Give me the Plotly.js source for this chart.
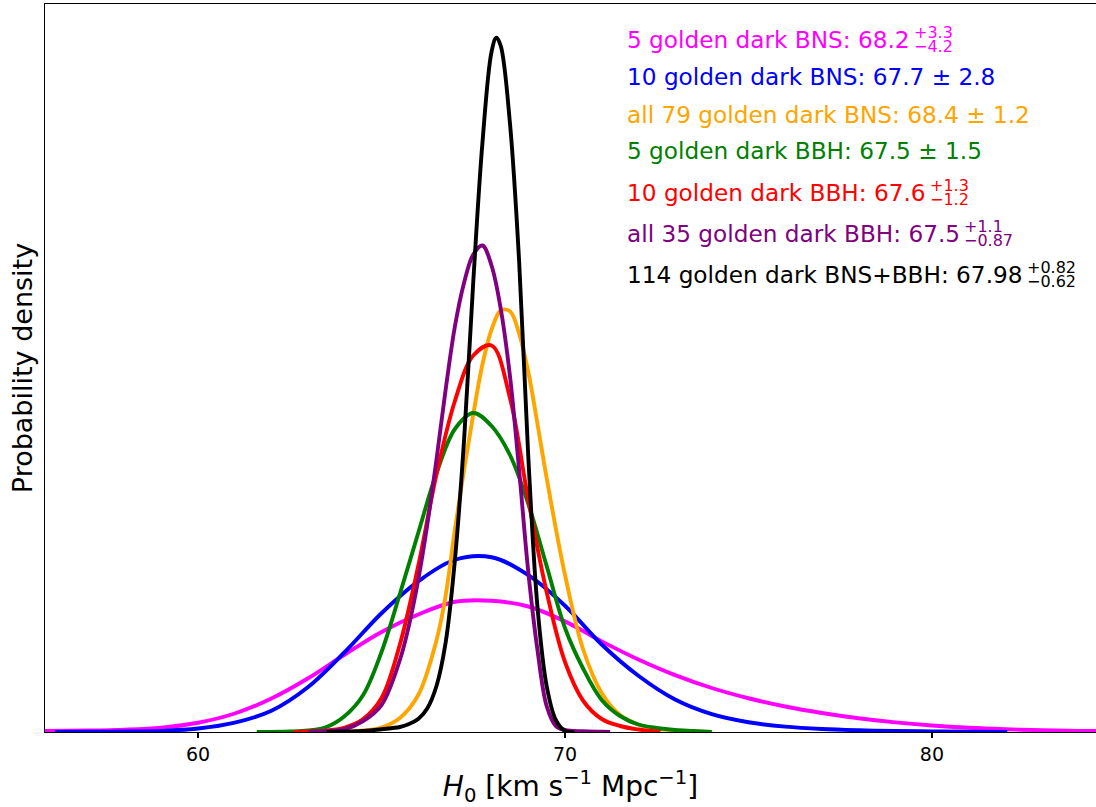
<!DOCTYPE html>
<html>
<head>
<meta charset="utf-8">
<script src="https://cdn.plot.ly/plotly-3.0.1.min.js"></script>
<style>
html, body { margin: 0; padding: 0; overflow: hidden; background: #fff; }
#chart { width: 1096px; height: 807px; }
</style>
</head>
<body>
<div id="chart"></div>
<script>
// ---- data (probability density vs H0) ----
const magentaX = [55.83, 57, 58, 59, 60, 61, 62, 63, 64, 65, 66, 67, 68, 69, 70, 71, 72, 73, 74, 75, 76, 77, 78, 79, 80, 81, 82, 83, 84, 84.47];
const magentaY = [0.0009, 0.0012, 0.0019, 0.0035, 0.0074, 0.0148, 0.0268, 0.043, 0.062, 0.08, 0.094, 0.1042, 0.105, 0.1004, 0.0885, 0.0725, 0.058, 0.0455, 0.0352, 0.027, 0.0204, 0.0152, 0.011, 0.0077, 0.0052, 0.0034, 0.0022, 0.0014, 0.0009, 0.0008];

const blueX = [56.1, 57, 58, 59, 60, 61, 62, 63, 64, 65, 66, 67, 68, 69, 70, 71, 72, 73, 74, 75, 76, 77, 78, 79, 80, 81, 82.05];
const blueY = [0, 0.00016, 0.0004, 0.0009, 0.0028, 0.0075, 0.017, 0.036, 0.064, 0.095, 0.1205, 0.1378, 0.1398, 0.1255, 0.101, 0.07, 0.045, 0.026, 0.0143, 0.0078, 0.0043, 0.0024, 0.0014, 0.0008, 0.0005, 0.0002, 0];

const orangeX = [63.87, 64, 64.5, 65, 65.5, 66, 66.5, 66.75, 67, 67.25, 67.5, 67.75, 68, 68.25, 68.5, 68.75, 69, 69.25, 69.5, 70, 70.5, 71, 71.5, 72, 72.5, 73, 73.5, 74];
const orangeY = [0, 0.0002, 0.0012, 0.0036, 0.0112, 0.0296, 0.0736, 0.1096, 0.162, 0.21, 0.254, 0.294, 0.322, 0.3372, 0.3366, 0.3186, 0.288, 0.2464, 0.2032, 0.1256, 0.0656, 0.0312, 0.0136, 0.006, 0.0028, 0.0012, 0.0004, 0];

const greenX = [61.6, 62.5, 63, 63.5, 64, 64.5, 65, 65.5, 66, 66.5, 67, 67.5, 68, 68.5, 69, 69.5, 70, 70.5, 71, 71.5, 72, 72.5, 73, 73.5, 74];
const greenY = [0, 0.0004, 0.0012, 0.004, 0.0128, 0.0296, 0.064, 0.1104, 0.1592, 0.2072, 0.2424, 0.2552, 0.2448, 0.2216, 0.1824, 0.1328, 0.0832, 0.0504, 0.0256, 0.0128, 0.006, 0.0032, 0.0016, 0.0008, 0];

const redX = [62.6, 63, 63.5, 64, 64.5, 65, 65.5, 66, 66.5, 67, 67.5, 68, 68.5, 69, 69.5, 70, 70.5, 71, 71.5, 72, 72.5, 72.6];
const redY = [0, 0.0004, 0.0012, 0.0036, 0.0104, 0.0272, 0.07, 0.1328, 0.2064, 0.2648, 0.3012, 0.3092, 0.2672, 0.1856, 0.112, 0.056, 0.0248, 0.0104, 0.0048, 0.002, 0.0004, 0];

const purpleX = [63.0, 63.5, 64, 64.5, 65, 65.5, 65.75, 66, 66.25, 66.5, 66.75, 67, 67.25, 67.5, 67.75, 68, 68.25, 68.5, 68.75, 69, 69.25, 69.5, 69.75, 70, 70.5, 71, 71.23];
const purpleY = [0, 0.0008, 0.0024, 0.0088, 0.0216, 0.0576, 0.0856, 0.1216, 0.1664, 0.2184, 0.2744, 0.3244, 0.3594, 0.382, 0.3892, 0.373, 0.3384, 0.2848, 0.2096, 0.128, 0.0656, 0.0208, 0.0048, 0.0016, 0.0006, 0.0002, 0];

const blackX = [63.5, 64, 64.5, 65, 65.5, 65.75, 66, 66.25, 66.5, 66.75, 67, 67.25, 67.5, 67.75, 68, 68.13, 68.25, 68.5, 68.75, 69, 69.25, 69.5, 69.75, 70, 70.25];
const blackY = [0, 0.0004, 0.0008, 0.0022, 0.004, 0.0064, 0.0104, 0.019, 0.037, 0.072, 0.1376, 0.2336, 0.36, 0.4712, 0.5444, 0.5555, 0.5488, 0.487, 0.3768, 0.22, 0.1, 0.0368, 0.0096, 0.0008, 0];

const seriesX = [magentaX, blueX, orangeX, greenX, redX, purpleX, blackX];
const seriesY = [magentaY, blueY, orangeY, greenY, redY, purpleY, blackY];
const seriesColors = ['#ff00ff', '#0000ff', '#ffa500', '#008000', '#ff0000', '#800080', '#000000'];

const legendLabels = [
  '5 golden dark BNS: 68.2',
  '10 golden dark BNS: 67.7 ± 2.8',
  'all 79 golden dark BNS: 68.4 ± 1.2',
  '5 golden dark BBH: 67.5 ± 1.5',
  '10 golden dark BBH: 67.6',
  'all 35 golden dark BBH: 67.5',
  '114 golden dark BNS+BBH: 67.98'
];
const legendSup = ['+3.3', '', '', '', '+1.3', '+1.1', '+0.82'];
const legendSub = ['−4.2', '', '', '', '−1.2', '−0.87', '−0.62'];

const xTicks = [60, 70, 80];
const xRange = [55.83, 84.47];
const yRange = [0, 0.5824];

// ---- layout helpers (pixel -> paper) ----
const W = 1096, H = 807, ML = 45, MT = 4, MB = 75;
const PW = W - ML, PH = H - MT - MB;
const px2paperX = p => (p - ML) / PW;
const py2paperY = p => (H - MB - p) / PH;

const FONT = 'DejaVu Sans, Verdana, sans-serif';
const LEG_SIZE = 23.2, SCRIPT_SIZE = 16;
const rowBaseline = [47, 84, 122, 158, 200, 241, 282];
const legendLeft = 627;

const cv = document.createElement('canvas').getContext('2d');
cv.font = LEG_SIZE + 'px "DejaVu Sans"';
const textWidth = t => cv.measureText(t).width;

const traces = seriesX.map((xs, i) => ({
  x: xs, y: seriesY[i], type: 'scatter', mode: 'lines',
  line: { color: seriesColors[i], width: 3.9, shape: 'spline', smoothing: 1 },
  hoverinfo: 'skip', showlegend: false
}));

const annotations = [];
legendLabels.forEach((t, i) => {
  annotations.push({
    xref: 'paper', yref: 'paper', x: px2paperX(legendLeft - 2), y: py2paperY(rowBaseline[i] - 7.5),
    xanchor: 'left', yanchor: 'middle', showarrow: false, text: t,
    font: { family: FONT, size: LEG_SIZE, color: seriesColors[i] }
  });
  if (legendSup[i]) {
    const sx = legendLeft + textWidth(t) + 2;
    annotations.push({
      xref: 'paper', yref: 'paper', x: px2paperX(sx), y: py2paperY(rowBaseline[i] - 14.5),
      xanchor: 'left', yanchor: 'middle', showarrow: false, text: legendSup[i],
      font: { family: FONT, size: SCRIPT_SIZE, color: seriesColors[i] }
    });
    annotations.push({
      xref: 'paper', yref: 'paper', x: px2paperX(sx), y: py2paperY(rowBaseline[i] - 0.5),
      xanchor: 'left', yanchor: 'middle', showarrow: false, text: legendSub[i],
      font: { family: FONT, size: SCRIPT_SIZE, color: seriesColors[i] }
    });
  }
});

const layout = {
  width: W, height: H,
  margin: { l: ML, r: 0, t: MT, b: MB, pad: 0 },
  paper_bgcolor: '#ffffff', plot_bgcolor: '#ffffff',
  font: { family: FONT, color: '#000' },
  showlegend: false,
  xaxis: {
    range: xRange, tickvals: xTicks, ticktext: xTicks.map(String),
    ticks: 'outside', ticklen: 5, tickwidth: 1.1, tickcolor: '#000',
    showline: true, linecolor: '#000', linewidth: 1.2, mirror: true,
    showgrid: false, zeroline: false, automargin: false,
    tickfont: { family: FONT, size: 19, color: '#000' },
    title: { text: '<i>H</i><sub>0</sub> [km s<sup>−1</sup> Mpc<sup>−1</sup>]', font: { family: FONT, size: 28, color: '#000' }, standoff: 17 }
  },
  yaxis: {
    range: yRange, showticklabels: false, ticks: '',
    showline: true, linecolor: '#000', linewidth: 1.2, mirror: false,
    showgrid: false, zeroline: false, automargin: false,
    title: { text: 'Probability density', font: { family: FONT, size: 27, color: '#000' }, standoff: 3 }
  },
  annotations: annotations
};

Plotly.newPlot('chart', traces, layout, { displayModeBar: false, staticPlot: true });
</script>
</body>
</html>
